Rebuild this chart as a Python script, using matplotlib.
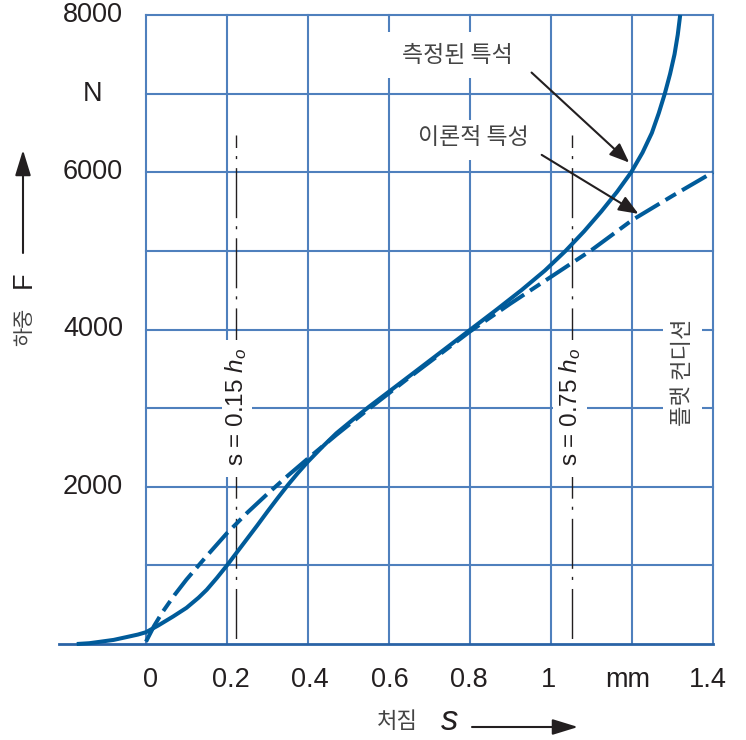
import matplotlib
matplotlib.use("Agg")
import matplotlib.pyplot as plt
from matplotlib.patches import Rectangle, FancyArrowPatch

plt.rcParams['font.family'] = ['Liberation Sans', 'Noto Sans CJK KR', 'DejaVu Sans']
plt.rcParams['mathtext.fontset'] = 'custom'
plt.rcParams['mathtext.rm'] = 'Liberation Sans'
plt.rcParams['mathtext.it'] = 'Liberation Sans:italic'

# ---- data ----
# measured characteristic (deflection s in mm, load F in N)
measured_s = [-0.171, -0.14, -0.114, -0.08, -0.048, -0.02, 0.0, 0.03, 0.067, 0.1, 0.13, 0.15,
              0.175, 0.2, 0.225, 0.25, 0.275, 0.3, 0.325, 0.35, 0.375, 0.4, 0.435, 0.47,
              0.51, 0.55, 0.6, 0.66, 0.73, 0.8, 0.865, 0.927, 0.985, 1.036, 1.082, 1.124,
              1.163, 1.198, 1.226, 1.249, 1.266, 1.281, 1.294, 1.305, 1.313, 1.319]
measured_F = [0, 10, 28, 52, 88, 120, 150, 235, 350, 460, 590, 690,
              840, 1000, 1170, 1340, 1510, 1685, 1855, 2020, 2175, 2320, 2505, 2680,
              2850, 3015, 3210, 3445, 3720, 3995, 4250, 4500, 4750, 5000, 5250, 5500,
              5750, 6000, 6250, 6500, 6750, 7000, 7250, 7500, 7750, 8000]

# theoretical characteristic
theory_s = [0.0, 0.02, 0.04, 0.07, 0.1, 0.15, 0.2, 0.25, 0.3, 0.35, 0.4, 0.47, 0.55, 0.65,
            0.8, 0.9, 1.0, 1.1, 1.2, 1.3, 1.4]
theory_F = [30, 230, 400, 620, 820, 1120, 1410, 1670, 1910, 2140, 2360, 2660, 2990, 3390,
            3975, 4330, 4670, 5010, 5390, 5700, 6000]

x_ticks = [0, 0.2, 0.4, 0.6, 0.8, 1.0, 1.2, 1.4]
x_labels = ['0', '0.2', '0.4', '0.6', '0.8', '1', 'mm', '1.4']
y_grid = [1000, 2000, 3000, 4000, 5000, 6000, 7000, 8000]
y_label_vals = [8000, 7000, 6000, 4000, 2000]
y_labels = ['8000', 'N', '6000', '4000', '2000']

s_015 = 0.223
s_075 = 1.052
ref_top = 6480

grid_c = '#4f80bd'
curve_c = '#005b9a'
ink = '#231f20'
kor_c = '#444444'

W, H = 746, 740
fig = plt.figure(figsize=(W / 100, H / 100), dpi=100)
ax = fig.add_axes([59 / W, 1 - 644 / H, 654 / W, 629 / H])
ax.set_xlim(-0.2148, 1.4)
ax.set_ylim(0, 8000)
ax.axis('off')

# grid
for xv in x_ticks:
    ax.plot([xv, xv], [0, 8000], color=grid_c, lw=1.5, clip_on=False, zorder=1,
            solid_capstyle='projecting')
for yv in y_grid:
    ax.plot([0, 1.4], [yv, yv], color=grid_c, lw=1.5, clip_on=False, zorder=1,
            solid_capstyle='projecting')
ax.plot([-0.2148, 1.4], [0, 0], color='#2a63a6', lw=2.0, clip_on=False, zorder=2)

# reference dash-dot lines
for xv in [s_015, s_075]:
    ax.plot([xv, xv], [ref_top, 0], color=ink, lw=1.0, clip_on=False, zorder=2,
            linestyle=(27.0, (36, 5.8, 2.2, 6.5)))

# white boxes behind labels
boxes = [(0.188, 2125, 0.074, 1743), (1.005, 2125, 0.084, 1743),
         (1.277, 2570, 0.096, 1770), (0.57, 7200, 0.40, 580), (0.64, 6158, 0.33, 510)]
for (bx, by, bw, bh) in boxes:
    ax.add_patch(Rectangle((bx, by), bw, bh, facecolor='white', edgecolor='none',
                           zorder=3, clip_on=False))

# curves
ax.plot(theory_s, theory_F, color=curve_c, lw=2.9, zorder=5, clip_on=False,
        linestyle=(0, (7, 1.75, 3, 1.75)), dash_capstyle='butt')
ax.plot(measured_s, measured_F, color=curve_c, lw=2.9, zorder=6, clip_on=False,
        solid_capstyle='butt', solid_joinstyle='round')

# labels on plot
ax.text(s_015, 3015, 's = 0.15 $h_o$', rotation=90, ha='center', va='center', fontsize=17.5,
        color=ink, zorder=4)
ax.text(s_075 - 0.005, 3015, 's = 0.75 $h_o$', rotation=90, ha='center', va='center',
        fontsize=17.5, color=ink, zorder=4)
ax.text(1.325, 3450, '플랫 컨디션', rotation=90, ha='center', va='center', fontsize=16,
        color=kor_c, zorder=4, family=['Noto Sans CJK KR'])
ax.text(0.77, 7490, '측정된 특석', ha='center', va='center', fontsize=16.5,
        color=kor_c, zorder=4, family=['Noto Sans CJK KR'])
ax.text(0.808, 6440, '이론적 특성', ha='center', va='center', fontsize=16.5,
        color=kor_c, zorder=4, family=['Noto Sans CJK KR'])

arrow_kw = dict(arrowstyle='-|>,head_length=1.0,head_width=0.4', color=ink, lw=1.5,
                mutation_scale=12, shrinkA=0, shrinkB=0)
ax.annotate('', xy=(1.193, 6123), xytext=(0.952, 7268), arrowprops=arrow_kw, zorder=7)
ax.annotate('', xy=(1.216, 5471), xytext=(0.977, 6221), arrowprops=arrow_kw, zorder=7)

# tick labels
for xv, lab in zip(x_ticks, x_labels):
    ax.text(xv + 0.012 - 0.018 * xv, -458, lab, ha='center', va='center', fontsize=19.5,
            color=ink, clip_on=False)
for yv, lab in zip(y_label_vals, y_labels):
    ax.text(-0.131, yv, lab, ha='center', va='center', fontsize=19.5, color=ink,
            clip_on=False)


def fx(px):
    return px / W


def fy(py):
    return 1 - py / H


# axis titles
fig.text(fx(24), fy(327), '하중', rotation=90, ha='center', va='center', fontsize=15,
         color=kor_c, family=['Noto Sans CJK KR'])
fig.text(fx(24), fy(280), 'F', rotation=90, ha='center', va='center', fontsize=19.5, color=ink)
fig.add_artist(FancyArrowPatch((fx(23), fy(253)), (fx(23), fy(150)),
               transform=fig.transFigure, arrowstyle='-|>,head_length=1.3,head_width=0.4',
               mutation_scale=12, color=ink, lw=1.5, shrinkA=0, shrinkB=0))

fig.text(fx(397), fy(721), '처짐', ha='center', va='center', fontsize=16,
         color=kor_c, family=['Noto Sans CJK KR'])
fig.text(fx(450), fy(721), 's', ha='center', va='center', fontsize=25, color=ink,
         family=['Liberation Sans'], style='italic')
fig.add_artist(FancyArrowPatch((fx(472), fy(727)), (fx(578), fy(727)),
               transform=fig.transFigure, arrowstyle='-|>,head_length=1.3,head_width=0.4',
               mutation_scale=12, color=ink, lw=1.5, shrinkA=0, shrinkB=0))

fig.savefig('out.png', dpi=100)
